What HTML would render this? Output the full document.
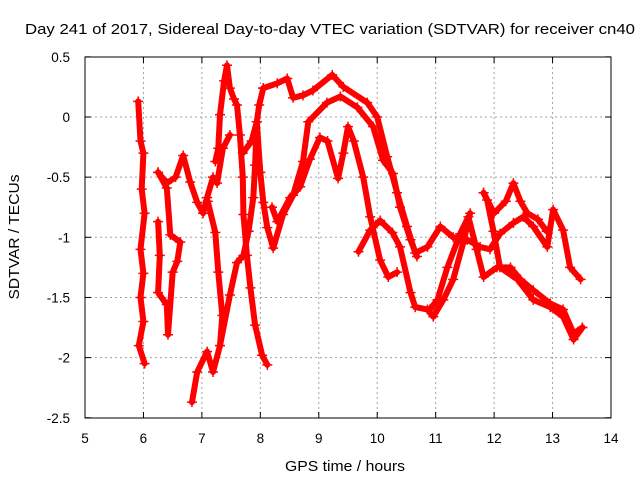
<!DOCTYPE html>
<html><head><meta charset="utf-8"><style>
body{margin:0;background:#fff}
svg{display:block;font-family:"Liberation Sans",sans-serif}
</style></head><body>
<svg id="chart" width="640" height="480" viewBox="0 0 640 480">
<text x="330" y="34" font-size="15" text-anchor="middle" textLength="610" lengthAdjust="spacingAndGlyphs">Day 241 of 2017, Sidereal Day-to-day VTEC variation (SDTVAR) for receiver cn40</text>
<text x="345" y="471" font-size="15" text-anchor="middle" textLength="120" lengthAdjust="spacingAndGlyphs">GPS time / hours</text>
<text transform="translate(19,237) rotate(-90)" font-size="15" text-anchor="middle" textLength="125" lengthAdjust="spacingAndGlyphs">SDTVAR / TECUs</text>
<g id="grid"></g><g id="ticks"></g><g id="series"></g>
<rect x="85" y="57" width="526" height="361" fill="none" stroke="#000" stroke-width="1"/>
</svg>
<script>
const xTicks=[5,6,7,8,9,10,11,12,13,14];
const yTicks=[0.5,0,-0.5,-1,-1.5,-2,-2.5];
const arc1T=[5.91,5.95,6.0,5.97,6.02,5.95,6.0,5.95,6.0,5.92,6.02];
const arc1V=[0.13,-0.2,-0.3,-0.6,-0.8,-1.1,-1.3,-1.5,-1.7,-1.9,-2.05];
const arc2T=[6.25,6.28,6.25,6.4,6.42,6.5,6.58,6.63,6.46,6.4,6.25];
const arc2V=[-0.87,-1.15,-1.46,-1.56,-1.81,-1.29,-1.2,-1.04,-0.98,-0.59,-0.46];
const arc3T=[6.25,6.4,6.55,6.68,6.8,6.92,7.02,7.09,7.19,7.26,7.36,7.48];
const arc3V=[-0.46,-0.55,-0.5,-0.32,-0.54,-0.71,-0.8,-0.67,-0.5,-0.55,-0.26,-0.15];
const arc4T=[7.23,7.28,7.31,7.38,7.43,7.48,7.55,7.6,7.65,7.7,7.71,7.77,7.83,7.91,8.03,8.12];
const arc4V=[-0.37,-0.26,0.02,0.3,0.43,0.24,0.15,0.1,-0.15,-0.5,-0.81,-1.15,-1.42,-1.73,-1.98,-2.06];
const arc5T=[6.83,6.92,7.09,7.19,7.31,7.48,7.6,7.71,7.8,7.88,7.91,7.94,7.98,8.05];
const arc5V=[-2.37,-2.12,-1.95,-2.12,-1.9,-1.48,-1.21,-1.15,-0.95,-0.67,-0.4,-0.04,0.1,0.24];
const arc6T=[7.1,7.23,7.28,7.35,7.31];
const arc6V=[-0.7,-0.96,-1.29,-1.65,-1.9];
const arc7T=[8.05,8.29,8.46,8.56,8.73,8.9,9.23,9.42,9.83,10.0,10.17,10.34,10.51,10.65,10.86,11.08,11.3,11.54,11.76,11.93,12.1,12.33,12.5,12.67,12.91,13.01,13.18,13.3,13.48];
const arc7V=[0.24,0.28,0.32,0.16,0.18,0.22,0.35,0.25,0.12,0,-0.33,-0.63,-0.91,-1.13,-1.08,-0.91,-1.0,-1.02,-1.08,-1.1,-0.97,-0.88,-0.83,-0.91,-1.08,-0.77,-0.94,-1.25,-1.35];
const arc8T=[7.7,7.85,7.94,8.0,8.05,8.12,8.22,8.39,8.56,8.73,8.82,9.14,9.37,9.66,9.93,10.1,10.27,10.39,10.57,10.68];
const arc8V=[-0.3,-0.2,-0.04,-0.46,-0.71,-0.92,-1.09,-0.81,-0.65,-0.37,-0.04,0.12,0.17,0.08,-0.08,-0.36,-0.47,-0.75,-1.02,-1.16];
const arc9T=[8.2,8.29,8.51,8.68,8.85,9.02,9.15,9.33,9.42,9.5,9.6,9.76,9.88,10.05,10.19,10.34];
const arc9V=[-0.75,-0.87,-0.67,-0.58,-0.35,-0.17,-0.2,-0.51,-0.3,-0.08,-0.2,-0.5,-0.83,-1.19,-1.33,-1.29];
const arc10T=[9.68,9.88,10.05,10.26,10.39,10.57,10.65,10.86,10.96,11.13,11.3,11.47,11.59];
const arc10V=[-1.12,-0.94,-0.86,-0.96,-1.08,-1.46,-1.58,-1.6,-1.66,-1.52,-1.35,-1.05,-0.8];
const arc11T=[10.9,11.03,11.2,11.42,11.56,11.7,11.82,12.05,12.28,12.45,12.67,12.96,13.18,13.36,13.51];
const arc11V=[-1.6,-1.52,-1.25,-0.97,-0.83,-1.1,-1.33,-1.25,-1.25,-1.35,-1.44,-1.55,-1.6,-1.8,-1.75];
const arc12T=[11.82,11.88,11.99,12.1,12.4,12.67,12.96,13.18,13.36,13.51];
const arc12V=[-0.63,-0.69,-0.95,-1.25,-1.35,-1.52,-1.58,-1.66,-1.85,-1.75];
const arc13T=[11.82,12.0,12.2,12.33,12.45,12.57,12.75,12.9];
const arc13V=[-0.63,-0.8,-0.7,-0.55,-0.7,-0.8,-0.85,-0.95];
const arcs=[[arc1T,arc1V],[arc2T,arc2V],[arc3T,arc3V],[arc4T,arc4V],[arc5T,arc5V],[arc6T,arc6V],[arc7T,arc7V],[arc8T,arc8V],[arc9T,arc9V],[arc10T,arc10V],[arc11T,arc11V],[arc12T,arc12V],[arc13T,arc13V]];
const NS='http://www.w3.org/2000/svg';
function xs(t){return 85+(t-5)*(526/9);}
function ys(v){return 117-v*120.3;}
function mk(tag,attrs,parent){const e=document.createElementNS(NS,tag);for(const k in attrs)e.setAttribute(k,attrs[k]);parent.appendChild(e);return e;}
const grid=document.getElementById('grid'),ticks=document.getElementById('ticks'),series=document.getElementById('series');
xTicks.forEach(t=>{const x=xs(t);
 if(t>5&&t<14){const g=mk('line',{x1:x,x2:x,y1:57,y2:418,stroke:'#a0a0a0','stroke-dasharray':'2,3'},grid);
 
 }
 mk('line',{x1:x,x2:x,y1:418,y2:412,stroke:'#000'},ticks);
 mk('line',{x1:x,x2:x,y1:57,y2:63,stroke:'#000'},ticks);
 const l=mk('text',{x:x,y:443,'font-size':13.5,'text-anchor':'middle'},ticks);l.textContent=t;
 
 });
yTicks.forEach(v=>{const y=ys(v);
 if(v<0.5&&v>-2.5){const g=mk('line',{x1:85,x2:611,y1:y,y2:y,stroke:'#a0a0a0','stroke-dasharray':'2,3'},grid);
 
 }
 mk('line',{x1:85,x2:91,y1:y,y2:y,stroke:'#000'},ticks);
 mk('line',{x1:611,x2:605,y1:y,y2:y,stroke:'#000'},ticks);
 const l=mk('text',{x:70,y:y+5,'font-size':13.5,'text-anchor':'end'},ticks);l.textContent=v;
 
 });
arcs.forEach((a,i)=>{const T=a[0],V=a[1];
 const g=mk('g',{},series);
 
 
 const pts=T.map((t,j)=>xs(t).toFixed(1)+','+ys(V[j]).toFixed(1)).join(' ');
 mk('polyline',{points:pts,fill:'none',stroke:'#ff0000','stroke-width':6,'stroke-linejoin':'round','stroke-linecap':'round'},g);
 let d='';T.forEach((t,j)=>{const x=xs(t),y=ys(V[j]);d+=`M${x-5},${y}h10M${x},${y-5}v10`;});
 mk('path',{d:d,stroke:'#ff0000','stroke-width':1.5,fill:'none'},g);
});
</script>
</body></html>
